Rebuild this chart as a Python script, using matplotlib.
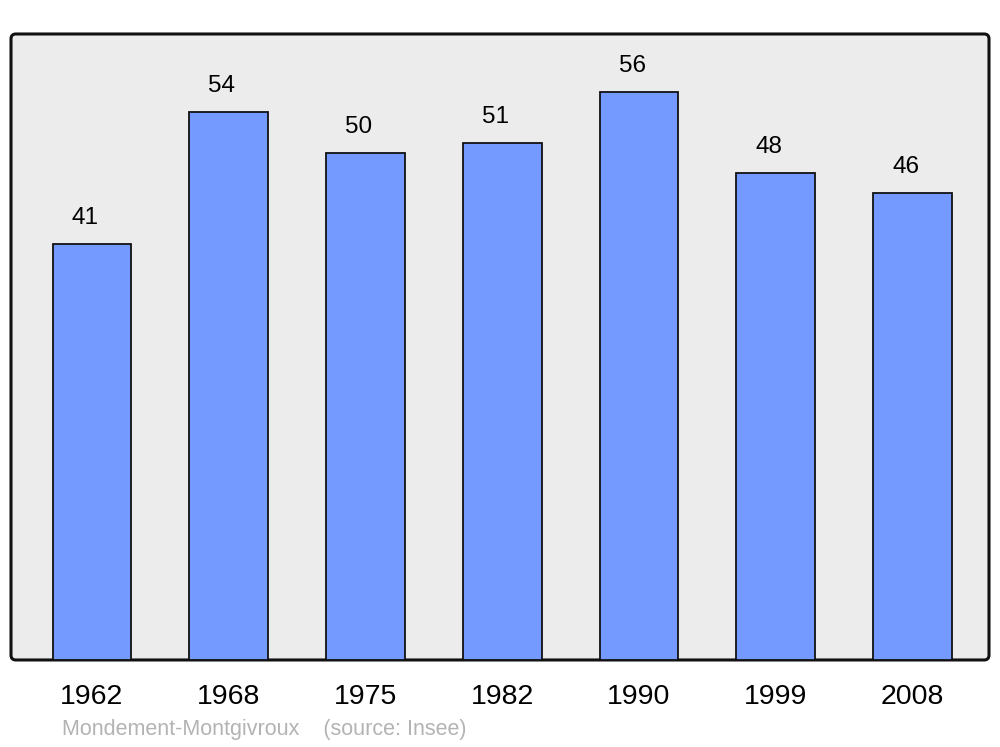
import matplotlib.pyplot as plt
from matplotlib.patches import FancyBboxPatch

plt.rcParams['font.family'] = ['Liberation Sans', 'DejaVu Sans']

years = ['1962', '1968', '1975', '1982', '1990', '1999', '2008']
population = [41, 54, 50, 51, 56, 48, 46]

fig = plt.figure(figsize=(10, 7.47), dpi=100)
ax = fig.add_axes([0.011, 0.1165, 0.978, 0.838])
ax.patch.set_visible(False)
for s in ax.spines.values():
    s.set_visible(False)

# rounded background frame
frame = FancyBboxPatch((0, 0), 1, 1, boxstyle='round,pad=0,rounding_size=0.005',
                       mutation_aspect=978 / 626, transform=ax.transAxes,
                       facecolor='#ececec', edgecolor='#111111', linewidth=2.2,
                       clip_on=False, zorder=0)
ax.add_patch(frame)

x = list(range(len(years)))
ax.bar(x, population, width=0.575, color='#7499ff', edgecolor='#111111',
       linewidth=1.3, zorder=2)

for xi, v in zip(x, population):
    ax.text(xi - 0.05, v + 2.55, str(v), ha='center', va='center',
            fontsize=17.5, color='black', zorder=3)

ax.set_xlim(-0.592, 6.559)
ax.set_ylim(0, 61.7)
ax.set_yticks([])
ax.set_xticks(x)
ax.set_xticklabels(years, fontsize=20.5)
ax.tick_params(axis='x', length=0, pad=17)

fig.text(0.062, 0.009, 'Mondement-Montgivroux    (source: Insee)',
         fontsize=15.5, color='#b3b3b3', ha='left', va='bottom')

fig.savefig('out.png', dpi=100)
